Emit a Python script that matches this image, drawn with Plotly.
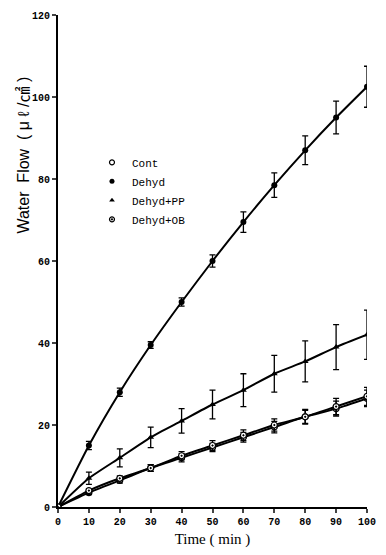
import plotly.graph_objects as go

time = [0, 10, 20, 30, 40, 50, 60, 70, 80, 90, 100]

cont = [0, 3.5, 6.5, 9.5, 12, 14.5, 17, 19.5, 22, 24, 26.5]
cont_err = [0, 0.5, 0.7, 0.8, 1.0, 1.0, 1.2, 1.4, 1.6, 1.8, 2.0]

dehyd = [0, 15, 28, 39.5, 50, 60, 69.5, 78.5, 87, 95, 102.5]
dehyd_err = [0, 1.0, 1.0, 0.8, 1.0, 1.5, 2.5, 3.0, 3.5, 4.0, 5.0]

dehyd_pp = [0, 7, 12, 17, 21, 25, 28.5, 32.5, 35.5, 39, 42]
dehyd_pp_err = [0, 1.5, 2.2, 2.5, 3.0, 3.5, 4.0, 4.5, 5.0, 5.5, 6.0]

dehyd_ob = [0, 4, 7, 9.5, 12.5, 15, 17.5, 20, 22, 24.5, 27]
dehyd_ob_err = [0, 0.5, 0.6, 0.8, 1.0, 1.2, 1.3, 1.5, 1.8, 2.0, 2.2]

series = [
    ("Cont", cont, cont_err, dict(symbol="circle-open", size=6, color="black", line=dict(width=1.2, color="black"))),
    ("Dehyd", dehyd, dehyd_err, dict(symbol="circle", size=6, color="black")),
    ("Dehyd+PP", dehyd_pp, dehyd_pp_err, dict(symbol="triangle-up", size=6, color="black")),
    ("Dehyd+OB", dehyd_ob, dehyd_ob_err, dict(symbol="circle-dot", size=6, color="white", line=dict(width=1.2, color="black"))),
]

fig = go.Figure()
for name, ys, err, mk in series:
    fig.add_trace(go.Scatter(
        x=time, y=ys, mode="lines+markers", name=name, showlegend=False,
        line=dict(color="black", width=2, shape="spline", smoothing=0.6),
        marker=mk,
        error_y=dict(type="data", array=err, visible=True, color="black", thickness=1.3, width=3),
    ))
for name, ys, err, mk in series:
    fig.add_trace(go.Scatter(x=[None], y=[None], mode="markers", name=name, marker=dict(mk, size=5)))

fig.update_layout(
    width=386, height=555,
    margin=dict(l=58, r=10, t=15, b=41),
    paper_bgcolor="white", plot_bgcolor="white",
    font=dict(family="Liberation Serif", color="black"),
    legend=dict(x=0.11, y=0.73, xanchor="left", yanchor="top", bgcolor="rgba(0,0,0,0)",
                font=dict(family="Liberation Mono", size=11),
                tracegroupgap=0, itemwidth=30),
    xaxis=dict(range=[0, 100], tickvals=time, ticks="outside", ticklen=4, tickwidth=1.5,
               showline=True, linewidth=2, linecolor="black", showgrid=False, zeroline=False,
               tickfont=dict(family="Liberation Mono", size=10, weight="bold"),
               title=dict(text="Time ( min )", font=dict(size=15), standoff=6)),
    yaxis=dict(range=[0, 120], tickvals=[0, 20, 40, 60, 80, 100, 120], ticks="outside", ticklen=4, tickwidth=1.5,
               showline=True, linewidth=2, linecolor="black", showgrid=False, zeroline=False,
               tickfont=dict(family="Liberation Mono", size=10, weight="bold")),
    annotations=[dict(text="Water  Flow  ( μ ℓ /㎠ )", textangle=-90, xref="paper", yref="paper",
                      x=-0.112, y=0.715, xanchor="center", yanchor="middle", showarrow=False,
                      font=dict(family="Liberation Sans, Noto Sans CJK JP", size=16))],
)
fig.write_html("out.html")
